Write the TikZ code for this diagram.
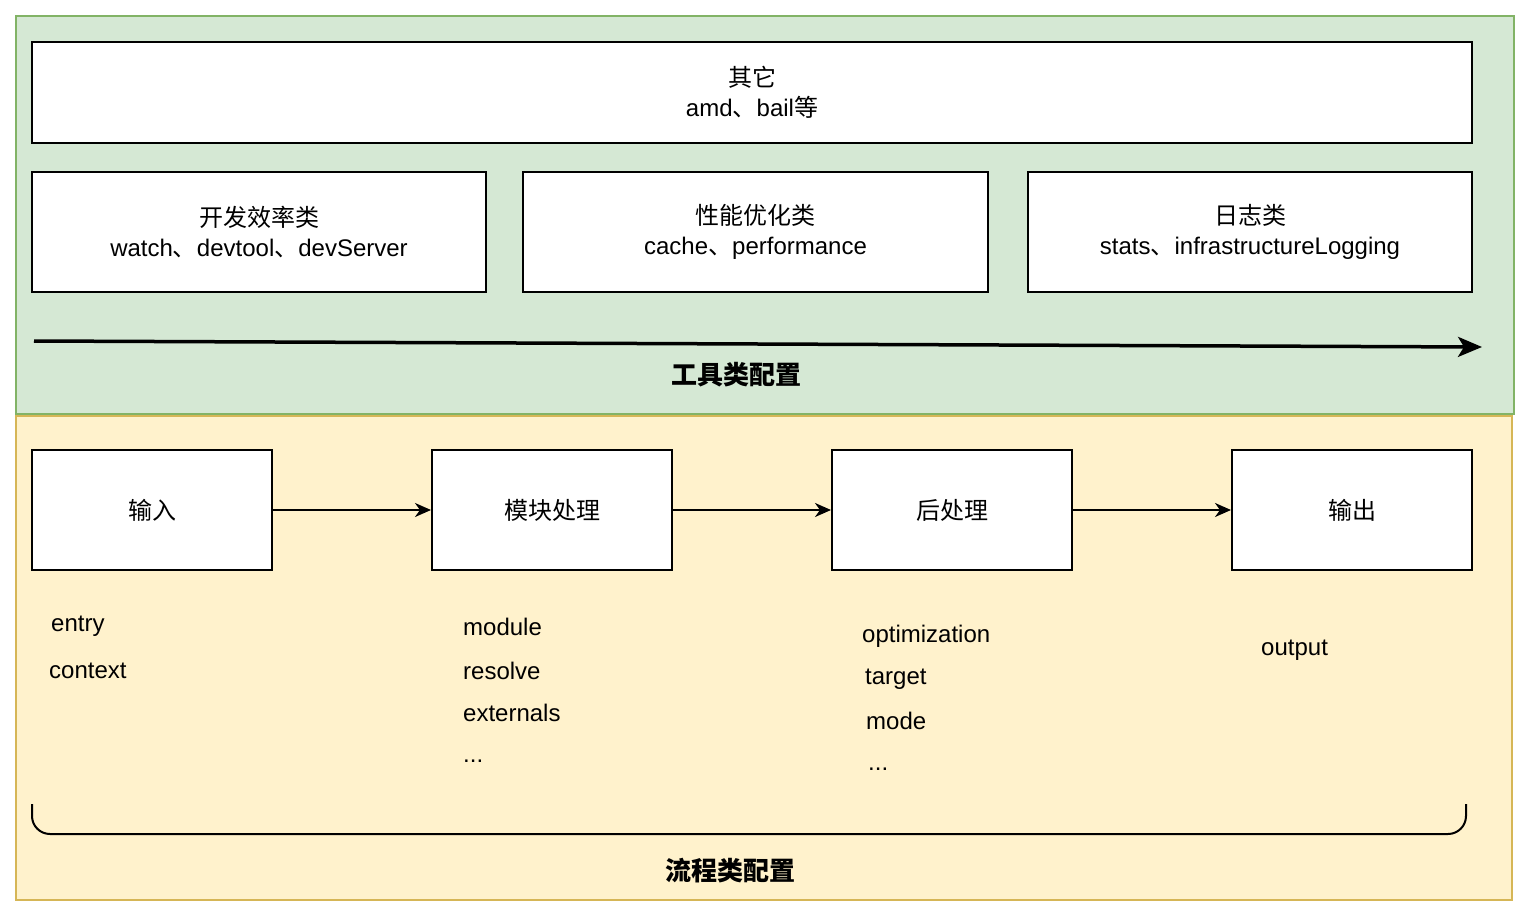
\documentclass[tikz,border=0pt]{standalone}
\usepackage{fontspec}
\setmainfont{Liberation Sans}
\newfontfamily\cjk{Noto Sans CJK SC}
\usetikzlibrary{arrows.meta}
\definecolor{greenfill}{HTML}{D5E8D4}
\definecolor{greenline}{HTML}{82B366}
\definecolor{yellowfill}{HTML}{FFF2CC}
\definecolor{yellowline}{HTML}{D6B656}
\tikzset{
  panel/.style={line width=2pt},
  cfgbox/.style={draw=black, fill=white, line width=2pt, inner sep=0pt, align=center, font=\fontsize{24}{29.5}\selectfont},
  item/.style={anchor=west, inner sep=0pt, font=\fontsize{24}{28}\selectfont},
  title/.style={inner sep=0pt, font=\fontsize{26}{30}\selectfont\cjk\bfseries},
  flow/.style={-{Stealth[length=16pt,width=14pt,inset=5pt]}, line width=2pt},
  bigarrow/.style={-{Stealth[length=24pt,width=20pt,inset=6pt]}, line width=3.5pt},
}
\begin{document}
\begin{tikzpicture}[x=1pt,y=-1pt]
\useasboundingbox (0,0) rectangle (1528,920);
% panels
\draw[panel, draw=greenline, fill=greenfill] (16,16) rectangle (1514,414);
\draw[panel, draw=yellowline, fill=yellowfill] (16,416) rectangle (1512,900);

% top boxes
\node[cfgbox, minimum width=1440pt, minimum height=101pt] (other) at (752,92.5) {{\cjk 其它}\\amd{\cjk 、}bail{\cjk 等}};
\node[cfgbox, minimum width=454pt, minimum height=120pt] (dev) at (259,232) {{\cjk 开发效率类}\\watch{\cjk 、}devtool{\cjk 、}devServer};
\node[cfgbox, minimum width=465pt, minimum height=120pt] (perf) at (755.5,232) {{\cjk 性能优化类}\\cache{\cjk 、}performance};
\node[cfgbox, minimum width=444pt, minimum height=120pt] (log) at (1250,232) {{\cjk 日志类}\\stats{\cjk 、}infrastructureLogging};

\coordinate (a1) at (34,341);
\coordinate (a2) at (1482,347);
\draw[bigarrow] (a1) -- (a2);
\node[title] (tooltitle) at (736,375) {工具类配置};

% flow boxes
\node[cfgbox, minimum width=240pt, minimum height=120pt] (in) at (152,510) {\cjk 输入};
\node[cfgbox, minimum width=240pt, minimum height=120pt] (mod) at (552,510) {\cjk 模块处理};
\node[cfgbox, minimum width=240pt, minimum height=120pt] (post) at (952,510) {\cjk 后处理};
\node[cfgbox, minimum width=240pt, minimum height=120pt] (out) at (1352,510) {\cjk 输出};
\draw[flow] (in) -- (mod);
\draw[flow] (mod) -- (post);
\draw[flow] (post) -- (out);

% items
\node[item] (entry) at (51,626) {entry};
\node[item] (context) at (49,671) {context};
\node[item] (module) at (463,627) {module};
\node[item] (resolve) at (463,671) {resolve};
\node[item] (externals) at (463,713) {externals};
\node[item] (dots1) at (463,761) {...};
\node[item] (optim) at (862,636) {optimization};
\node[item] (target) at (865,679) {target};
\node[item] (mode) at (866,721) {mode};
\node[item] (dots2) at (868,769) {...};
\node[item] (output) at (1261,650) {output};

% bracket
\coordinate (b1) at (32,804);
\coordinate (b2) at (32,834);
\coordinate (b3) at (1466,834);
\coordinate (b4) at (1466,804);
\draw[line width=2pt, rounded corners=18pt] (b1) -- (b2) -- (b3) -- (b4);
\node[title] (flowtitle) at (730,871) {流程类配置};
\end{tikzpicture}
\end{document}
